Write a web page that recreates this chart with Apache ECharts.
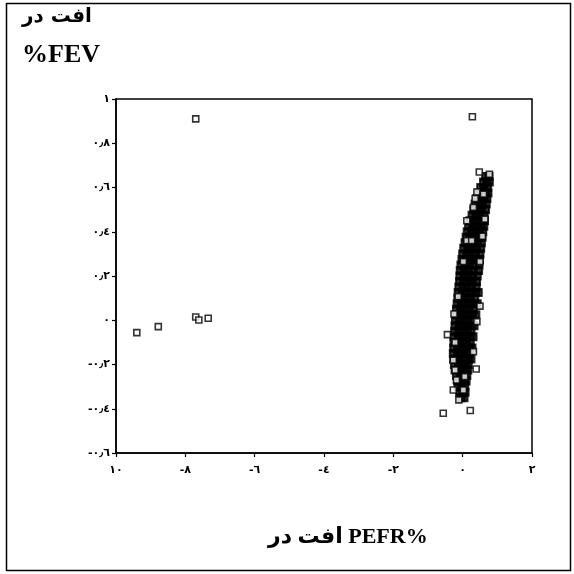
<!DOCTYPE html>
<html><head><meta charset="utf-8">
<script src="https://cdn.jsdelivr.net/npm/echarts@6/dist/echarts.min.js"></script>
<style>html,body{margin:0;padding:0;background:#fff}#c{width:574px;height:574px}</style>
</head><body><div id="c"></div>
<script>
// Axis tick labels (Arabic-Indic digits as in the reference)
const xTickValues = [-10, -8, -6, -4, -2, 0, 2];
const xTickLabels = ['١٠', '-٨', '-٦', '-٤', '-٢', '٠', '٢'];
const yTickValues = [-0.6, -0.4, -0.2, 0, 0.2, 0.4, 0.6, 0.8, 1];
const yTickLabels = ['-٠٫٦', '-٠٫٤', '-٠٫٢', '٠', '٠٫٢', '٠٫٤', '٠٫٦', '٠٫٨', '١'];

// Isolated points (x = % drop PEFR, y = % drop FEV)
const outlierPoints = [[-7.70, 0.91], [0.28, 0.92], [-9.40, -0.056], [-8.78, -0.029], [-7.70, 0.015], [-7.61, 0.001], [-7.34, 0.009]];

// Dense cluster read row by row: [y, [x values]]
const clusterRows = [
  [0.65, [0.66, 0.76]],
  [0.625, [0.60, 0.70, 0.77]],
  [0.60, [0.52, 0.62, 0.72]],
  [0.575, [0.47, 0.57, 0.67, 0.73]],
  [0.55, [0.41, 0.52, 0.62, 0.70]],
  [0.525, [0.36, 0.47, 0.58, 0.68]],
  [0.50, [0.32, 0.43, 0.54, 0.66]],
  [0.475, [0.27, 0.38, 0.50, 0.62]],
  [0.45, [0.21, 0.33, 0.45, 0.57, 0.63]],
  [0.425, [0.17, 0.29, 0.41, 0.53, 0.61]],
  [0.40, [0.13, 0.25, 0.37, 0.49, 0.58]],
  [0.375, [0.10, 0.22, 0.34, 0.46, 0.56]],
  [0.35, [0.07, 0.19, 0.31, 0.43, 0.54]],
  [0.325, [0.03, 0.15, 0.27, 0.40, 0.52]],
  [0.30, [0.00, 0.12, 0.24, 0.37, 0.50]],
  [0.275, [-0.02, 0.10, 0.22, 0.35, 0.48]],
  [0.25, [-0.05, 0.07, 0.19, 0.32, 0.47]],
  [0.225, [-0.07, 0.05, 0.17, 0.30, 0.46]],
  [0.20, [-0.08, 0.04, 0.16, 0.29, 0.42]],
  [0.175, [-0.09, 0.03, 0.15, 0.27, 0.40]],
  [0.15, [-0.11, 0.01, 0.13, 0.26, 0.39]],
  [0.125, [-0.13, -0.01, 0.11, 0.24, 0.37, 0.45]],
  [0.10, [-0.14, -0.02, 0.10, 0.22, 0.35]],
  [0.075, [-0.16, -0.04, 0.08, 0.20, 0.33, 0.42]],
  [0.05, [-0.18, -0.06, 0.06, 0.18, 0.31]],
  [0.025, [-0.19, -0.07, 0.05, 0.17, 0.29, 0.38]],
  [0.00, [-0.21, -0.09, 0.03, 0.15, 0.27]],
  [-0.025, [-0.22, -0.10, 0.02, 0.14, 0.25, 0.33]],
  [-0.05, [-0.23, -0.11, 0.01, 0.13, 0.24]],
  [-0.075, [-0.25, -0.13, -0.01, 0.11, 0.22, 0.30]],
  [-0.10, [-0.25, -0.13, -0.01, 0.11, 0.22]],
  [-0.125, [-0.26, -0.14, -0.02, 0.10, 0.20, 0.27]],
  [-0.15, [-0.27, -0.15, -0.03, 0.09, 0.19]],
  [-0.175, [-0.26, -0.14, -0.02, 0.09, 0.17, 0.24]],
  [-0.20, [-0.24, -0.12, -0.01, 0.09, 0.16]],
  [-0.225, [-0.22, -0.10, 0.01, 0.10, 0.15]],
  [-0.25, [-0.18, -0.07, 0.03, 0.12]],
  [-0.275, [-0.15, -0.05, 0.05, 0.10]],
  [-0.30, [-0.13, -0.03, 0.06]],
  [-0.325, [-0.09, 0.01, 0.07]],
  [-0.35, [-0.05, 0.04]]
];

// Visible points on the edge of the cluster
const edgePoints = [
  [0.48, 0.67], [0.77, 0.66], [0.41, 0.58], [0.36, 0.55], [0.60, 0.57], [0.31, 0.51],
  [0.12, 0.45], [0.64, 0.457], [0.12, 0.36], [0.26, 0.36], [0.57, 0.38], [0.02, 0.265],
  [0.50, 0.265], [-0.13, 0.107], [0.50, 0.064], [-0.25, 0.028], [0.41, -0.006],
  [-0.44, -0.065], [-0.22, -0.10], [0.31, -0.142], [0.39, -0.22], [-0.27, -0.18],
  [-0.22, -0.225], [-0.18, -0.27], [0.06, -0.255], [-0.27, -0.315], [-0.11, -0.36],
  [0.02, -0.315], [-0.56, -0.42], [0.22, -0.408]
];

const clusterPoints = [];
clusterRows.forEach(r => r[1].forEach(x => clusterPoints.push([x, r[0]])));

const labelFont = {fontFamily: 'DejaVu Sans', fontWeight: 'bold', fontSize: 11, color: '#000'};
const markStyle = {color: '#fff', borderColor: '#000', borderWidth: 1.6};

const chart = echarts.init(document.getElementById('c'));
chart.setOption({
  animation: false,
  backgroundColor: '#fff',
  grid: {left: 116, right: 42, top: 99, bottom: 121, show: true, borderColor: '#000', borderWidth: 1.5, containLabel: false},
  xAxis: {
    type: 'value', min: -10, max: 2, interval: 2,
    axisLine: {onZero: false, lineStyle: {color: '#000', width: 1.5}},
    axisTick: {show: true, inside: false, length: 4, lineStyle: {color: '#000', width: 1.2}},
    splitLine: {show: false},
    axisLabel: Object.assign({margin: 12, formatter: v => {
      const i = xTickValues.findIndex(t => Math.abs(t - v) < 1e-6);
      return i >= 0 ? xTickLabels[i] : '';
    }}, labelFont)
  },
  yAxis: {
    type: 'value', min: -0.6, max: 1, interval: 0.2,
    axisLine: {onZero: false, lineStyle: {color: '#000', width: 1.5}},
    axisTick: {show: true, inside: false, length: 4, lineStyle: {color: '#000', width: 1.2}},
    splitLine: {show: false},
    axisLabel: Object.assign({margin: 6, formatter: v => {
      const i = yTickValues.findIndex(t => Math.abs(t - v) < 1e-6);
      return i >= 0 ? yTickLabels[i] : '';
    }}, labelFont)
  },
  series: [
    {type: 'scatter', symbol: 'rect', symbolSize: 7, data: clusterPoints, itemStyle: {color: '#000', borderColor: '#000', borderWidth: 2}},
    {type: 'scatter', symbol: 'rect', symbolSize: 6, data: edgePoints, itemStyle: markStyle},
    {type: 'scatter', symbol: 'rect', symbolSize: 6, data: outlierPoints, itemStyle: markStyle}
  ],
  graphic: [
    {type: 'rect', shape: {x: 6.5, y: 3.5, width: 564, height: 567}, style: {fill: null, stroke: '#000', lineWidth: 1.5}, silent: true},
    {type: 'text', left: 22, top: 7, style: {text: 'افت در', font: 'bold 20px "DejaVu Sans"', fill: '#000'}},
    {type: 'text', left: 22, top: 42, style: {text: '%FEV', font: 'bold 26px "Liberation Serif"', fill: '#000'}},
    {type: 'text', left: 268, top: 526, style: {text: 'افت در PEFR%', font: 'bold 22px "Liberation Serif", "DejaVu Sans"', fill: '#000'}}
  ]
});
</script></body></html>
